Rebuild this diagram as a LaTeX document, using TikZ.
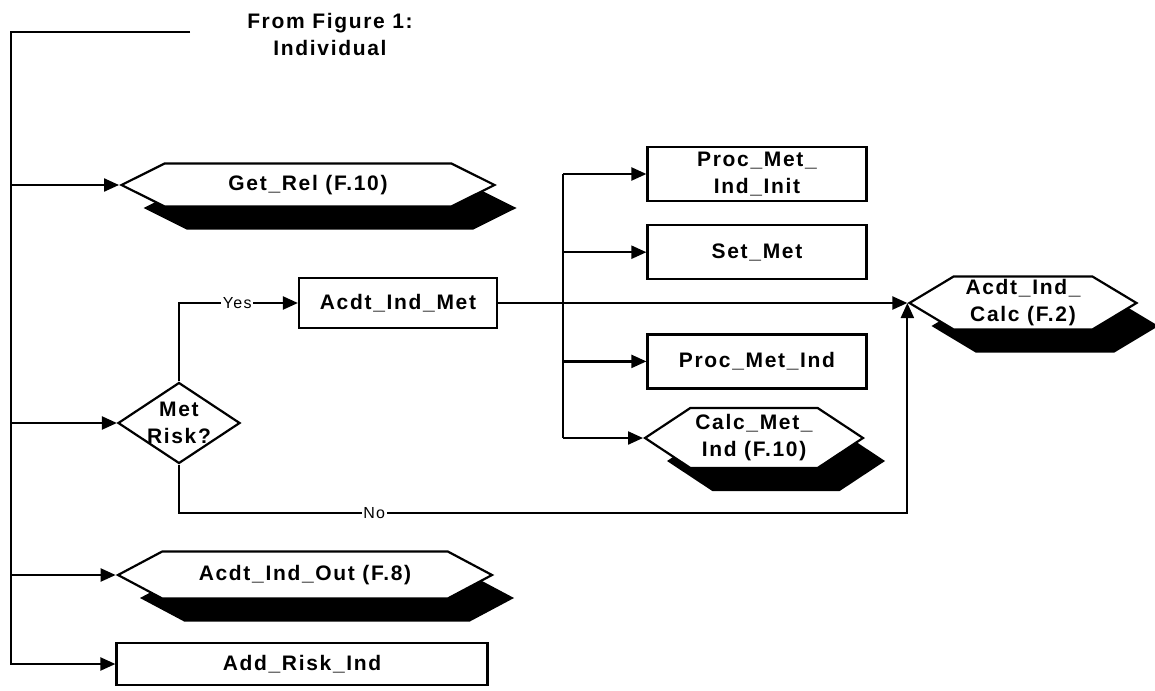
\documentclass[tikz,border=0pt]{standalone}
\usepackage{fontspec}
\setmainfont{Liberation Sans}[LetterSpace=8]
\usepackage{tikz}
\usetikzlibrary{positioning,shapes.geometric,shapes.symbols,shadows,arrows.meta}

\begin{document}
\begin{tikzpicture}[
  x=1pt, y=-1pt,
  line width=2.2pt,
  >={Triangle[length=15pt,width=13pt]},
  font=\bfseries\fontsize{21}{27}\selectfont,
  box/.style={draw, rectangle, fill=white, inner sep=2pt, align=center},
  module/.style={draw, fill=white, shape=signal, signal to=west and east, signal from=nowhere,
    signal pointer angle=#1, inner sep=2pt, align=center,
    drop shadow={shadow xshift=22pt, shadow yshift=-23pt, fill=black, opacity=1}},
  module/.default=60,
  test/.style={draw, diamond, aspect=1.5, inner sep=-6pt, minimum width=122pt, minimum height=81pt,
    fill=white, align=center},
  answer/.style={fill=white, inner sep=1.5pt, font=\fontsize{16}{18}\selectfont}
]
\useasboundingbox (0,0) rectangle (1155,690);

% ======================================================
% =============== LEFT COLUMN ==========================
% ======================================================
\node (fromfig) [align=center] at (330,34) {From Figure 1:\\Individual};
\coordinate (fig1) at (190,32);
\coordinate (trunk) at (11,32);

\node (getrel) [module=53, minimum width=373pt, minimum height=43pt] at (308,185) {Get\_Rel (F.10)};
\node (risk) [test] at (179,423) {Met\\Risk?};
\node (out) [module=56, minimum width=374pt, minimum height=47pt] at (305,575) {Acdt\_Ind\_Out (F.8)};
\node (addrisk) [box, minimum width=371pt, minimum height=42pt] at (302,664) {Add\_Risk\_Ind};

% trunk
\draw[->] (fig1) -- (trunk) |- (addrisk.west);
\draw[->] (trunk |- getrel.west) -- (getrel.west);
\draw[->] (trunk |- risk.west) -- (risk.west);
\draw[->] (trunk |- out.west) -- (out.west);

% ======================================================
% =============== MET BRANCH ===========================
% ======================================================
\node (met) [box, minimum width=198pt, minimum height=50pt] at (398,303) {Acdt\_Ind\_Met};

\node (init) [box, minimum width=219pt, minimum height=54pt] at (757,174) {Proc\_Met\_\\Ind\_Init};
\node (setmet) [box, minimum width=219pt, minimum height=54pt, below=22pt of init] {Set\_Met};
\node (procind) [box, minimum width=219pt, minimum height=54pt, below=53pt of setmet] {Proc\_Met\_Ind};
\node (calcmet) [module=67, minimum width=218pt, minimum height=60pt] at (754,438) {Calc\_Met\_\\Ind (F.10)};

\node (calc) [module=62, minimum width=227pt, minimum height=53pt] at (1023,303) {Acdt\_Ind\_\\Calc (F.2)};

\draw[->] (risk.north) |- node[answer, pos=0.745] {Yes} (met.west);
\draw[->] (risk.south) -- ++(0,48) -| node[answer, pos=0.134] {No} (calc.west);
\draw[->] (met.east) -- (calc.west);

% fork
\coordinate (fork) at (563,303);
\draw (fork |- init.west) -- (fork |- calcmet.west);
\draw[->] (fork |- init.west) -- (init.west);
\draw[->] (fork |- setmet.west) -- (setmet.west);
\draw[->] (fork |- procind.west) -- (procind.west);
\draw[->] (fork |- calcmet.west) -- (calcmet.west);

\end{tikzpicture}
\end{document}
